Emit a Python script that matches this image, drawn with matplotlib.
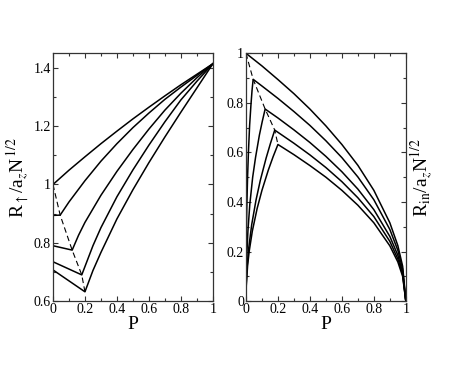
import matplotlib
matplotlib.use('Agg')
import matplotlib.pyplot as plt
from matplotlib.ticker import MultipleLocator, FuncFormatter

plt.rcParams['font.family'] = ['Liberation Serif', 'DejaVu Serif']
plt.rcParams['mathtext.fontset'] = 'stix'

# kink points (critical polarisation) shared by both panels
kinkP = [0.0, 0.045, 0.12, 0.18, 0.2]
kinkV = [1.0, 0.895, 0.775, 0.69, 0.632]

# ---- left panel: R_up ----
up1_P = [0, 0.1, 0.2, 0.3, 0.4, 0.5, 0.6, 0.7, 0.8, 0.9, 1.0]
up1_V = [1.0, 1.049, 1.095, 1.140, 1.183, 1.225, 1.265, 1.304, 1.342, 1.378, 1.414]

up2_P = [0, 0.045, 0.1, 0.2, 0.3, 0.4, 0.5, 0.6, 0.7, 0.8, 0.9, 1.0]
up2_V = [0.894, 0.895, 0.94, 1.013, 1.08, 1.14, 1.195, 1.245, 1.292, 1.334, 1.374, 1.414]

up3_P = [0, 0.12, 0.16, 0.2, 0.3, 0.4, 0.5, 0.6, 0.7, 0.8, 0.9, 1.0]
up3_V = [0.79, 0.775, 0.826, 0.87, 0.963, 1.045, 1.12, 1.19, 1.255, 1.313, 1.366, 1.414]

up4_P = [0, 0.18, 0.25, 0.3, 0.4, 0.5, 0.6, 0.7, 0.8, 0.9, 1.0]
up4_V = [0.735, 0.69, 0.79, 0.852, 0.958, 1.05, 1.135, 1.215, 1.29, 1.354, 1.414]

up5_P = [0, 0.2, 0.25, 0.3, 0.4, 0.5, 0.6, 0.7, 0.8, 0.9, 1.0]
up5_V = [0.707, 0.632, 0.705, 0.767, 0.882, 0.982, 1.075, 1.163, 1.248, 1.331, 1.414]

# ---- right panel: R_in ----
in1_P = [0, 0.1, 0.2, 0.3, 0.4, 0.5, 0.6, 0.7, 0.8, 0.9, 0.95, 0.98, 1.0]
in1_V = [1.0, 0.949, 0.894, 0.837, 0.775, 0.707, 0.632, 0.548, 0.447, 0.316, 0.224, 0.141, 0.0]

in2_P = [0, 0.0005, 0.002, 0.005, 0.01, 0.016, 0.023, 0.031, 0.038, 0.045,
         0.1, 0.2, 0.3, 0.4, 0.5, 0.6, 0.7, 0.8, 0.9, 0.95, 0.98, 1.0]
in2_V = [0, 0.12, 0.24, 0.37, 0.50, 0.61, 0.71, 0.79, 0.85, 0.895,
         0.868, 0.818, 0.765, 0.709, 0.647, 0.579, 0.501, 0.409, 0.289, 0.205, 0.129, 0.0]

in3_P = [0, 0.001, 0.005, 0.012, 0.024, 0.042, 0.06, 0.084, 0.102, 0.12,
         0.2, 0.3, 0.4, 0.5, 0.6, 0.7, 0.8, 0.9, 0.95, 0.98, 1.0]
in3_V = [0, 0.08, 0.18, 0.28, 0.39, 0.50, 0.58, 0.67, 0.725, 0.775,
         0.739, 0.691, 0.640, 0.584, 0.522, 0.452, 0.369, 0.261, 0.185, 0.117, 0.0]

in4_P = [0, 0.002, 0.008, 0.018, 0.036, 0.063, 0.09, 0.126, 0.153, 0.18,
         0.3, 0.4, 0.5, 0.6, 0.7, 0.8, 0.9, 0.95, 0.98, 1.0]
in4_V = [0, 0.073, 0.146, 0.218, 0.309, 0.408, 0.488, 0.577, 0.636, 0.69,
         0.637, 0.590, 0.539, 0.482, 0.417, 0.341, 0.241, 0.170, 0.108, 0.0]

in5_P = [0, 0.002, 0.01, 0.02, 0.04, 0.07, 0.1, 0.14, 0.17, 0.2,
         0.3, 0.4, 0.5, 0.6, 0.7, 0.8, 0.9, 0.95, 0.98, 1.0]
in5_V = [0, 0.063, 0.141, 0.2, 0.283, 0.374, 0.447, 0.529, 0.583, 0.632,
         0.591, 0.547, 0.500, 0.447, 0.387, 0.316, 0.223, 0.158, 0.100, 0.0]

fig = plt.figure(figsize=(4.73, 3.65), dpi=100)
ax1 = fig.add_axes([0.112, 0.175, 0.338, 0.679])
ax2 = fig.add_axes([0.520, 0.175, 0.338, 0.679])

lw = 1.1
for P, V in [(up1_P, up1_V), (up2_P, up2_V), (up3_P, up3_V), (up4_P, up4_V), (up5_P, up5_V)]:
    ax1.plot(P, V, color='black', lw=lw)
ax1.plot(kinkP, kinkV, color='black', lw=0.8, ls=(0, (5, 3)))

for P, V in [(in1_P, in1_V), (in2_P, in2_V), (in3_P, in3_V), (in4_P, in4_V), (in5_P, in5_V)]:
    ax2.plot(P, V, color='black', lw=lw)
ax2.plot(kinkP, kinkV, color='black', lw=0.8, ls=(0, (5, 3)))

fmt = FuncFormatter(lambda v, pos: '%g' % round(v, 3))

ax1.set_xlim(0, 1)
ax1.set_ylim(0.6, 1.45)
ax1.yaxis.set_major_locator(MultipleLocator(0.2))
ax1.yaxis.set_minor_locator(MultipleLocator(0.1))

ax2.set_xlim(0, 1)
ax2.set_ylim(0, 1)
ax2.yaxis.set_major_locator(MultipleLocator(0.2))
ax2.yaxis.set_minor_locator(MultipleLocator(0.1))

for ax in (ax1, ax2):
    ax.xaxis.set_major_locator(MultipleLocator(0.2))
    ax.xaxis.set_minor_locator(MultipleLocator(0.1))
    ax.xaxis.set_major_formatter(fmt)
    ax.yaxis.set_major_formatter(fmt)
    ax.tick_params(which='both', direction='in', top=True, right=True,
                   labelsize=10, pad=1.5, color='#333333')
    ax.tick_params(which='major', length=3.5, width=0.8)
    ax.tick_params(which='minor', length=2, width=0.8)
    for s in ax.spines.values():
        s.set_linewidth(0.9)
        s.set_color('#333333')
    ax.set_xlabel('P', fontsize=14, labelpad=0)

ax1.set_ylabel(r'R$_{\uparrow}$/a$_z$N$^{\,1/2}$', fontsize=14, labelpad=2)
ax2.yaxis.set_label_position('right')
ax2.set_ylabel(r'R$_{\rm in}$/a$_z$N$^{1/2}$', fontsize=14, labelpad=2)

fig.savefig('out.png', dpi=100)
